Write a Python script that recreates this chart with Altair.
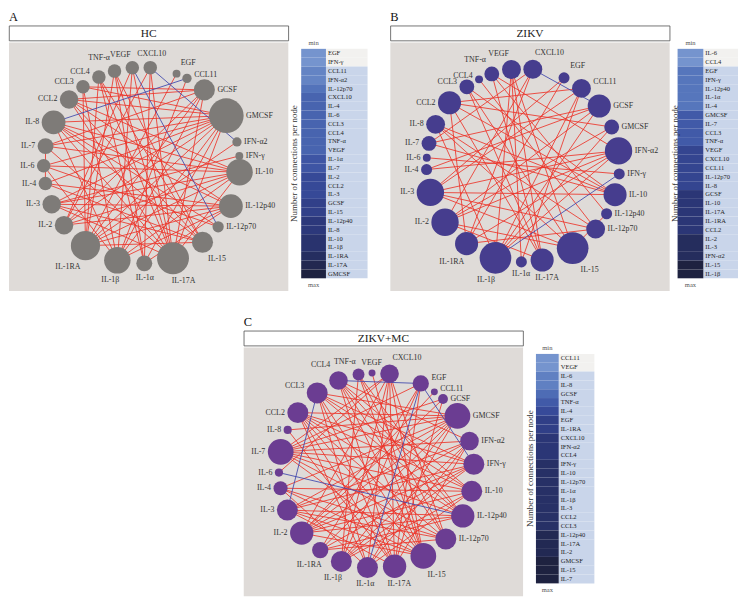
import altair as alt
import numpy as np
import pandas as pd

# ---------------- data ----------------
NODES = ["VEGF", "CXCL10", "EGF", "CCL11", "GCSF", "GMCSF", "IFN-α2", "IFN-γ", "IL-10",
         "IL-12p40", "IL-12p70", "IL-15", "IL-17A", "IL-1α", "IL-1β", "IL-1RA", "IL-2",
         "IL-3", "IL-4", "IL-6", "IL-7", "IL-8", "CCL2", "CCL3", "CCL4", "TNF-α"]

# HC
HC_ANGLE = [95.5, 85, 69.2, 62.5, 50.3, 30.4, 13.8, 5.5, -4.0, -24.6, -38.8, -51.7, -71.4,
            -88.5, -104.4, -125, -142.4, -156.6, -169.3, -179.7, 168.7, 154, 137.8, 126.8, 115.9, 106.1]
HC_DEGREE = [4, 4, 1, 2, 7, 12, 2, 1, 9, 8, 3, 7, 11, 5, 9, 10, 6, 6, 4, 4, 5, 8, 6, 4, 4, 4]
HC_ORDER = ["EGF", "IFN-γ", "CCL11", "IFN-α2", "IL-12p70", "CXCL10", "IL-4", "IL-6", "CCL3",
            "CCL4", "TNF-α", "VEGF", "IL-1α", "IL-7", "IL-2", "CCL2", "IL-3", "GCSF", "IL-15",
            "IL-12p40", "IL-8", "IL-10", "IL-1β", "IL-1RA", "IL-17A", "GMCSF"]
HC_POS = [("GMCSF", "IL-8"), ("GMCSF", "IL-7"), ("GMCSF", "IL-6"), ("GMCSF", "IL-3"),
          ("GMCSF", "IL-2"), ("GMCSF", "IL-1RA"), ("GMCSF", "IL-1β"), ("GMCSF", "CCL2"),
          ("GMCSF", "CCL3"), ("GMCSF", "IL-4"), ("GMCSF", "IL-1α"), ("GMCSF", "IL-17A"),
          ("IL-17A", "VEGF"), ("IL-17A", "CXCL10"), ("IL-17A", "CCL4"), ("IL-17A", "TNF-α"),
          ("IL-17A", "CCL2"), ("IL-17A", "IL-8"), ("IL-17A", "IL-7"), ("IL-17A", "GCSF"),
          ("IL-17A", "IL-10"), ("IL-17A", "IL-3"),
          ("IL-1RA", "EGF"), ("IL-1RA", "IFN-α2"), ("IL-1RA", "GCSF"), ("IL-1RA", "IL-10"),
          ("IL-1RA", "IL-12p40"), ("IL-1RA", "TNF-α"), ("IL-1RA", "CCL3"), ("IL-1RA", "CCL4"),
          ("IL-1RA", "IL-15"),
          ("IL-10", "IL-6"), ("IL-10", "IL-7"), ("IL-10", "IL-8"), ("IL-10", "CCL2"),
          ("IL-10", "IL-2"), ("IL-10", "IL-1β"), ("IL-10", "IL-3"),
          ("IL-1β", "CCL11"), ("IL-1β", "VEGF"), ("IL-1β", "CCL3"), ("IL-1β", "IL-8"),
          ("IL-1β", "IL-12p40"), ("IL-1β", "GCSF"), ("IL-1β", "IL-6"),
          ("IL-12p40", "IL-3"), ("IL-12p40", "IL-4"), ("IL-12p40", "IL-2"), ("IL-12p40", "IL-8"),
          ("IL-12p40", "CCL2"), ("IL-12p40", "IL-1α"),
          ("IL-8", "IL-12p70"), ("IL-8", "IL-15"),
          ("GCSF", "CCL2"), ("GCSF", "CCL3"), ("GCSF", "IL-7"), ("GCSF", "IL-2"),
          ("IFN-γ", "IL-3"),
          ("IL-15", "CCL4"), ("IL-15", "TNF-α"), ("IL-15", "IL-4"), ("IL-15", "IL-3"), ("IL-15", "CCL2"),
          ("IL-1α", "CXCL10"), ("IL-1α", "CCL4"), ("IL-1α", "TNF-α"),
          ("IL-2", "CXCL10"), ("IL-2", "VEGF"), ("IL-12p70", "IL-6"), ("IL-4", "IL-7")]
HC_NEG = [("IL-8", "CCL11"), ("VEGF", "IL-12p70"), ("CXCL10", "IFN-α2")]

# ZIKV
ZK_ANGLE = [96.9, 84.2, 64.9, 52.8, 37.9, 23.4, 8.6, -5.1, -17.7, -30.1, -41.3, -59.1, -78.6,
            -91, -106.6, -125.8, -143.9, -163.7, -177.5, 175.5, 166.9, 154.9, 139.6, 125.6, 117.1, 108.9]
ZK_DEGREE = [4, 4, 2, 4, 5, 3, 6, 2, 5, 2, 4, 7, 5, 2, 7, 5, 6, 6, 2, 1, 3, 4, 5, 3, 1, 3]
ZK_ORDER = ["IL-6", "CCL4", "EGF", "IFN-γ", "IL-12p40", "IL-1α", "IL-4", "GMCSF", "IL-7", "CCL3",
            "TNF-α", "VEGF", "CXCL10", "CCL11", "IL-12p70", "IL-8", "GCSF", "IL-10", "IL-17A",
            "IL-1RA", "CCL2", "IL-2", "IL-3", "IFN-α2", "IL-15", "IL-1β"]
ZK_POS = [("CCL2", "CCL11"), ("IL-7", "GCSF"), ("VEGF", "IL-1α"), ("VEGF", "IL-17A"),
          ("TNF-α", "IL-12p40"), ("CCL3", "IL-15"), ("CCL2", "IL-17A"), ("IL-3", "IL-10"),
          ("IL-3", "IL-12p70"), ("IL-3", "IL-15"), ("IL-4", "IFN-α2"), ("IL-2", "IFN-α2"),
          ("IL-2", "GCSF"), ("IL-1RA", "IFN-α2"), ("IL-1β", "GMCSF"), ("IL-1β", "IL-8"),
          ("IL-1RA", "CCL2"), ("IL-15", "IL-8"), ("IL-15", "IL-2"), ("CCL11", "IL-3"),
          ("CCL11", "IL-1β"), ("IFN-α2", "IL-1β"), ("IFN-α2", "IL-3"), ("VEGF", "IL-15"),
          ("IL-10", "IL-8"), ("IL-10", "IL-7"), ("IL-10", "CCL2"), ("IL-10", "CCL3"),
          ("IL-12p70", "IL-8"), ("IL-12p70", "CCL4"), ("IL-12p70", "IL-1RA"),
          ("IL-17A", "TNF-α"), ("IL-17A", "IL-2"), ("IL-17A", "CCL3"),
          ("CXCL10", "IL-2"), ("CXCL10", "IL-1RA"), ("CXCL10", "IL-7"),
          ("EGF", "IL-3"), ("EGF", "IL-1RA"), ("GCSF", "IL-1β"), ("GCSF", "IL-4"),
          ("GMCSF", "IL-2"), ("GMCSF", "CCL2"), ("IFN-α2", "TNF-α"), ("IFN-γ", "IL-6"),
          ("IL-12p40", "IL-15"), ("VEGF", "IL-1β"), ("CCL11", "IL-1α")]
ZK_NEG = [("CXCL10", "GCSF"), ("IFN-γ", "IL-1β")]

# ZIKV+MC
MC_ANGLE = [92.6, 82.3, 63, 53.6, 47, 33.9, 17.5, 3.6, -12.4, -27.8, -44.7, -61.3, -79.3,
            -95.3, -111.1, -125.2, -140, -156, -169.5, -178.7, 169, 155.5, 143.7, 127.4, 112.9, 100.6]
MC_DEGREE = [1, 7, 6, 1, 3, 10, 7, 8, 8, 9, 8, 10, 9, 8, 8, 6, 9, 8, 5, 2, 10, 2, 8, 8, 7, 4]
MC_ORDER = ["CCL11", "VEGF", "IL-6", "IL-8", "GCSF", "TNF-α", "IL-4", "EGF", "IL-1RA", "CXCL10",
            "IFN-α2", "CCL4", "IFN-γ", "IL-10", "IL-12p70", "IL-1α", "IL-1β", "IL-3", "CCL2",
            "CCL3", "IL-12p40", "IL-17A", "IL-2", "GMCSF", "IL-15", "IL-7"]
MC_POS = [("GMCSF", "IL-7"), ("GMCSF", "IL-3"), ("GMCSF", "IL-2"), ("GMCSF", "IL-1RA"),
          ("GMCSF", "IL-1β"), ("GMCSF", "IL-4"), ("GMCSF", "CCL2"), ("GMCSF", "CCL3"),
          ("GMCSF", "IL-8"), ("GMCSF", "IL-1α"),
          ("IL-7", "CXCL10"), ("IL-7", "EGF"), ("IL-7", "GCSF"), ("IL-7", "IFN-α2"),
          ("IL-7", "IFN-γ"), ("IL-7", "IL-10"), ("IL-7", "IL-12p40"), ("IL-7", "IL-12p70"),
          ("IL-7", "IL-15"),
          ("IL-15", "CCL4"), ("IL-15", "CCL3"), ("IL-15", "CCL2"), ("IL-15", "TNF-α"),
          ("IL-15", "IL-3"), ("IL-15", "IL-4"), ("IL-15", "CXCL10"), ("IL-15", "VEGF"),
          ("IL-15", "IL-2"),
          ("IL-2", "CXCL10"), ("IL-2", "IFN-α2"), ("IL-2", "IFN-γ"), ("IL-2", "IL-10"),
          ("IL-2", "IL-12p40"), ("IL-2", "CCL11"), ("IL-2", "GCSF"),
          ("IL-12p40", "CCL4"), ("IL-12p40", "CCL3"), ("IL-12p40", "CCL2"), ("IL-12p40", "IL-3"),
          ("IL-12p40", "IL-1RA"), ("IL-12p40", "TNF-α"),
          ("IL-17A", "CXCL10"), ("IL-17A", "EGF"), ("IL-17A", "GCSF"), ("IL-17A", "CCL2"),
          ("IL-17A", "CCL3"), ("IL-17A", "CCL4"), ("IL-17A", "IL-3"), ("IL-17A", "IL-8"),
          ("IL-17A", "IFN-α2"),
          ("IL-12p70", "CCL4"), ("IL-12p70", "CCL2"), ("IL-12p70", "IL-4"), ("IL-12p70", "IL-3"),
          ("IL-12p70", "IL-1RA"), ("IL-12p70", "CXCL10"), ("IL-12p70", "TNF-α"),
          ("IL-10", "CCL3"), ("IL-10", "CCL2"), ("IL-10", "IL-4"), ("IL-10", "IL-1β"),
          ("IL-10", "IL-1α"), ("IL-10", "CCL4"),
          ("IFN-γ", "CCL3"), ("IFN-γ", "CCL2"), ("IFN-γ", "IL-3"), ("IFN-γ", "IL-1β"),
          ("IFN-γ", "IL-1RA"),
          ("IFN-α2", "IL-3"), ("IFN-α2", "IL-1β"), ("IFN-α2", "IL-1α"), ("IFN-α2", "CCL4"),
          ("CXCL10", "IL-1β"), ("CXCL10", "IL-6"), ("CXCL10", "IL-1α"),
          ("EGF", "IL-1RA"), ("EGF", "IL-1β"),
          ("IL-1α", "CCL2"), ("IL-1α", "CCL3"), ("IL-1α", "IL-4"), ("TNF-α", "IL-1β")]
MC_NEG = [("CCL4", "EGF"), ("CCL3", "IL-3"), ("EGF", "IL-1α"), ("EGF", "IFN-γ"), ("IL-6", "IL-12p40")]

# ---------------- style / layout ----------------
FONT = "Liberation Serif"
RED = "#ec3328"
BLUE = "#3b44ab"
PANEL = "#dfdbd8"
BAR_RANGE = ["#7594ce", "#5070b8", "#3a4fa0", "#2d3a80", "#262f63", "#1e2240"]
TXT_BG = "#c9d5ea"
TXT_BG_MIN = "#f2f1ef"
PW, PH = 282, 251
CX, CY = 134, 124
LET_H = 11
HEAD_H = 15
BLOCK_H = LET_H + 1 + HEAD_H + 1 + PH
ROW_TOP = LET_H + 1 + HEAD_H + 1 + 9.4
ROW_H = 8.91
IND = dict(color="independent", size="independent")


def node_radius(deg, dmin, dmax, rmin, rmax):
    s0, s1 = (2 * rmin) ** 2, (2 * rmax) ** 2
    t = (deg ** 2 - dmin ** 2) / (dmax ** 2 - dmin ** 2)
    return np.sqrt(s0 + (s1 - s0) * t) / 2


def network(angles, degree, pos, neg, node_color, R, rmin, rmax):
    ang = np.deg2rad(np.array(angles, float))
    deg = np.array(degree, float)
    c, s = np.cos(ang), np.sin(ang)
    x, y = R * c, R * s
    dmin, dmax = deg.min(), deg.max()
    off = node_radius(deg, dmin, dmax, rmin, rmax) + 2.5
    top_l = s > 0.9
    bot_l = s < -0.72
    vert = top_l | bot_l
    anchor = np.where(top_l, np.where(c < -0.09, "TR", np.where(c > 0.09, "TL", "T")),
                      np.where(bot_l, "B", np.where(c >= 0, "L", "R")))
    lx = np.where(vert, x + off * c * 1.8, x + np.sign(c) * off)
    ly = np.where(top_l, y + off, np.where(bot_l, y - off, y + np.where(s > 0.78, off * 0.5, 0)))
    nodes = pd.DataFrame(dict(node=NODES, degree=deg, x=x, y=y, lx=lx, ly=ly, anchor=anchor))
    idx = {n: i for i, n in enumerate(NODES)}
    rows = []
    for sign, lst in (("pos", pos), ("neg", neg)):
        for a, b in lst:
            i, j = idx[a], idx[b]
            rows.append(dict(a=a, b=b, sign=sign, x=x[i], y=y[i], x2=x[j], y2=y[j]))
    edges = pd.DataFrame(rows)
    xs = alt.Scale(domain=[-CX, PW - CX], nice=False, zero=False)
    ys = alt.Scale(domain=[-(PH - CY), CY], nice=False, zero=False)
    e = alt.Chart(edges).mark_rule(strokeWidth=0.85).encode(
        x=alt.X("x:Q", scale=xs, axis=None), y=alt.Y("y:Q", scale=ys, axis=None),
        x2="x2:Q", y2="y2:Q",
        color=alt.Color("sign:N", scale=alt.Scale(domain=["pos", "neg"], range=[RED, BLUE]), legend=None))
    n = alt.Chart(nodes).mark_circle(opacity=1, color=node_color).encode(
        x=alt.X("x:Q", scale=xs, axis=None), y=alt.Y("y:Q", scale=ys, axis=None),
        size=alt.Size("degree:Q", legend=None,
                      scale=alt.Scale(type="pow", exponent=2, zero=False, domain=[dmin, dmax],
                                      range=[(2 * rmin) ** 2, (2 * rmax) ** 2])))
    labs = []
    for key, al, bl in (("L", "left", "middle"), ("R", "right", "middle"),
                        ("T", "center", "bottom"), ("TL", "left", "bottom"),
                        ("TR", "right", "bottom"), ("B", "center", "top")):
        labs.append(alt.Chart(nodes).transform_filter(alt.datum.anchor == key).mark_text(
            align=al, baseline=bl, font=FONT, fontSize=8, color="#333333").encode(
            x=alt.X("lx:Q", scale=xs, axis=None), y=alt.Y("ly:Q", scale=ys, axis=None), text="node:N"))
    return alt.layer(e, n, *labs).properties(
        width=PW, height=PH, view=alt.ViewBackground(fill=PANEL, stroke=None))


def block(letter, name, net):
    let = alt.Chart(pd.DataFrame({"t": [letter]})).mark_text(
        font=FONT, fontSize=12.5, color="#111111", align="left", baseline="top").encode(
        text="t:N", x=alt.value(0), y=alt.value(-1)).properties(width=PW, height=LET_H)
    head = alt.Chart(pd.DataFrame({"t": [name]})).mark_text(
        font=FONT, fontSize=11.5, color="#222222", baseline="middle").encode(
        text="t:N", x=alt.value(PW / 2), y=alt.value(HEAD_H / 2 + 0.5)).properties(
        width=PW, height=HEAD_H, view=alt.ViewBackground(fill="white", stroke="#505050", strokeWidth=0.8))
    return alt.vconcat(let, head, net, spacing=1).resolve_scale(**IND)


def legend(order, degree, W, title_x, bar0, bar1, bg1):
    dmap = dict(zip(NODES, degree))
    d = [dmap[k] for k in order]
    n = len(order)
    rows = pd.DataFrame({"node": order, "degree": d, "rank": np.arange(n)})
    rows["rank2"] = rows["rank"] + 1
    rows["mid"] = rows["rank"] + 0.5
    rows["lowest"] = rows["degree"] == min(d)
    lo = -ROW_TOP / ROW_H
    hi = lo + BLOCK_H / ROW_H
    ys = alt.Scale(domain=[lo, hi], reverse=True, nice=False, zero=False)
    base = alt.Chart(rows)
    bg = base.mark_rect().encode(
        x=alt.value(bar1), x2=alt.value(bg1),
        y=alt.Y("rank:Q", scale=ys, axis=None), y2="rank2:Q",
        color=alt.condition("datum.lowest", alt.value(TXT_BG_MIN), alt.value(TXT_BG)))
    bar = base.mark_rect().encode(
        x=alt.value(bar0), x2=alt.value(bar1),
        y=alt.Y("rank:Q", scale=ys, axis=None), y2="rank2:Q",
        color=alt.Color("degree:Q", legend=None,
                        scale=alt.Scale(domain=[min(d), max(d)], range=BAR_RANGE, interpolate="rgb")))
    names = base.mark_text(align="left", baseline="middle", font=FONT, fontSize=6.6,
                           color="#1f1f1f").encode(
        x=alt.value(bar1 + 2), y=alt.Y("mid:Q", scale=ys, axis=None), text="node:N")
    ends = alt.Chart(pd.DataFrame({"t": ["min", "max"], "p": [-0.62, n + 0.72]})).mark_text(
        font=FONT, fontSize=6.6, color="#555555", baseline="middle").encode(
        x=alt.value((bar0 + bar1) / 2), y=alt.Y("p:Q", scale=ys, axis=None), text="t:N")
    ttl = alt.Chart(pd.DataFrame({"t": ["Number of connections per node"], "p": [n / 2]})).mark_text(
        angle=270, font=FONT, fontSize=9, color="#333333", baseline="middle").encode(
        x=alt.value(title_x), y=alt.Y("p:Q", scale=ys, axis=None), text="t:N")
    return alt.layer(bg, bar, names, ends, ttl).properties(width=W, height=BLOCK_H)


netA = network(HC_ANGLE, HC_DEGREE, HC_POS, HC_NEG, "#7e7b78", 99, 4, 17.5)
netB = network(ZK_ANGLE, ZK_DEGREE, ZK_POS, ZK_NEG, "#463d8e", 97.5, 4, 16)
netC = network(MC_ANGLE, MC_DEGREE, MC_POS, MC_NEG, "#6b3d92", 98.5, 3.5, 13)

legA = legend(HC_ORDER, HC_DEGREE, 101, 4.5, 12, 37, 79)
legB = legend(ZK_ORDER, ZK_DEGREE, 68, 4.5, 7, 33, 68)
legC = legend(MC_ORDER, MC_DEGREE, 71, 6, 12, 35, 71)

spacer = alt.Chart(pd.DataFrame({"v": [0]})).mark_point(opacity=0, size=1).encode(
    x=alt.value(10), y=alt.value(10)).properties(width=236, height=BLOCK_H)

top = alt.hconcat(block("A", "HC", netA), legA, block("B", "ZIKV", netB), legB,
                  spacing=0).resolve_scale(**IND)
bottom = alt.hconcat(spacer, block("C", "ZIKV+MC", netC), legC, spacing=0).resolve_scale(**IND)

chart = alt.vconcat(top, bottom, spacing=25).resolve_scale(**IND).properties(
    padding=0).configure_view(stroke=None)

chart.save("out.html", embed_options={"renderer": "svg", "actions": False})
